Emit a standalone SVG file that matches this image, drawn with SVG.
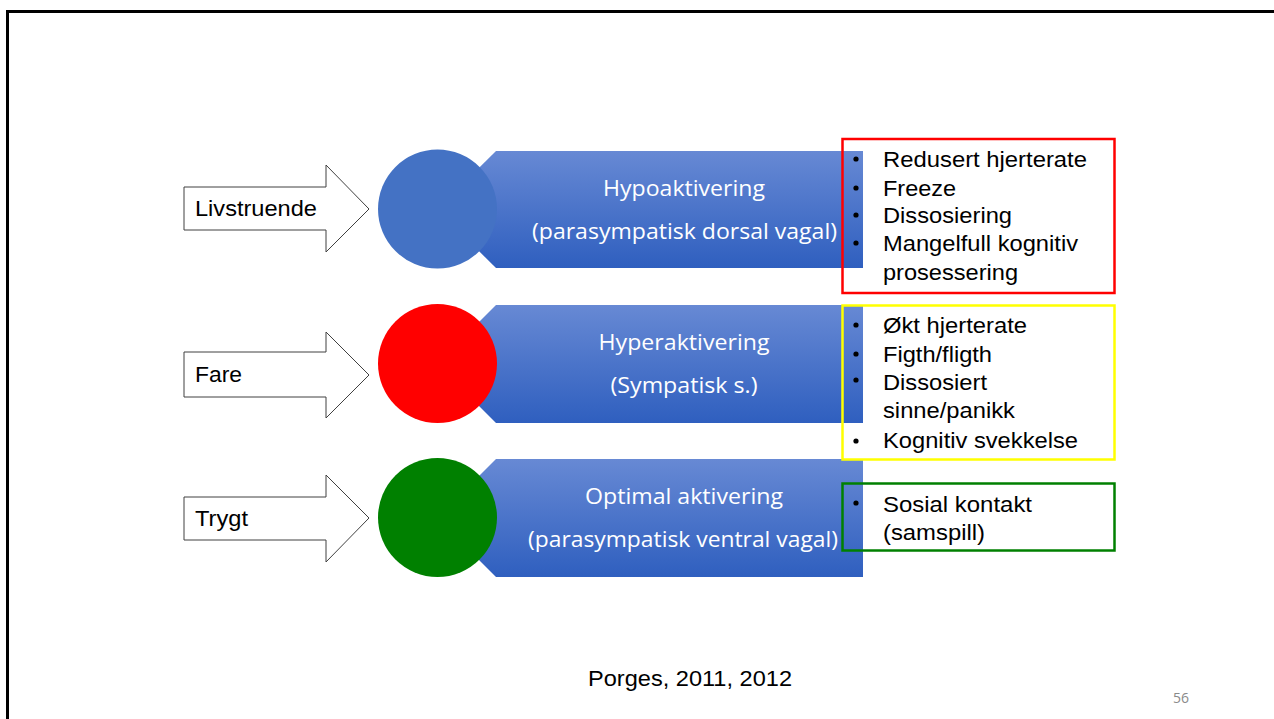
<svg xmlns="http://www.w3.org/2000/svg" width="1274" height="719" viewBox="0 0 1274 719">
<defs>
<linearGradient id="bannerGrad" x1="0" y1="0" x2="0" y2="1">
<stop offset="0" stop-color="#6789d4"/>
<stop offset="1" stop-color="#2f5fbf"/>
</linearGradient>
<style>
.frame{fill:none;stroke:#000;stroke-width:3}
.arrow{fill:#fff;stroke:#404040;stroke-width:1}
.banner{fill:url(#bannerGrad)}
.btxt{font-family:"Open Sans","Liberation Sans",sans-serif;font-size:21px;fill:#fff;text-anchor:middle}
.atxt{font-family:"Liberation Sans",Arial,sans-serif;font-size:22px;fill:#000}
.ltxt{font-family:"Liberation Sans",Arial,sans-serif;font-size:22px;fill:#000}
.bul{fill:#000}
.box{fill:none;stroke-width:2.5}
.pg{font-family:"Open Sans","Liberation Sans",sans-serif;font-size:14px;fill:#8a8a8a}
</style>
</defs>
<rect class="frame" x="7.5" y="11.5" width="1300" height="800"/>
<g id="connectors"></g>

<g id="arrow-livstruende">
<polygon class="arrow" points="184,187 326,187 326,165 369,209 326,252 326,230 184,230"/>
<text class="atxt" x="195" y="216" textLength="122" lengthAdjust="spacingAndGlyphs">Livstruende</text>
</g>
<g id="arrow-fare">
<polygon class="arrow" points="184,352 326,352 326,332 369,375 326,418 326,397 184,397"/>
<text class="atxt" x="195" y="382" textLength="47" lengthAdjust="spacingAndGlyphs">Fare</text>
</g>
<g id="arrow-trygt">
<polygon class="arrow" points="184,497 326,497 326,475 369,518 326,562 326,540 184,540"/>
<text class="atxt" x="195" y="526" textLength="53" lengthAdjust="spacingAndGlyphs">Trygt</text>
</g>

<g id="banner-hypo">
<polygon class="banner" points="496,151 863,151 863,268 496,268 437,209.5"/>
<text class="btxt" x="684" y="196" textLength="162" lengthAdjust="spacingAndGlyphs">Hypoaktivering</text>
<text class="btxt" x="684.5" y="239" textLength="305" lengthAdjust="spacingAndGlyphs">(parasympatisk dorsal vagal)</text>
</g>
<g id="banner-hyper">
<polygon class="banner" points="496,305 863,305 863,423 496,423 437,364"/>
<text class="btxt" x="684" y="350" textLength="171" lengthAdjust="spacingAndGlyphs">Hyperaktivering</text>
<text class="btxt" x="684" y="393" textLength="147" lengthAdjust="spacingAndGlyphs">(Sympatisk s.)</text>
</g>
<g id="banner-optimal">
<polygon class="banner" points="496,459 863,459 863,577 496,577 437,518"/>
<text class="btxt" x="684" y="504" textLength="198" lengthAdjust="spacingAndGlyphs">Optimal aktivering</text>
<text class="btxt" x="683" y="547" textLength="310" lengthAdjust="spacingAndGlyphs">(parasympatisk ventral vagal)</text>
</g>

<g id="circle-blue"><circle cx="437.5" cy="209" r="59.5" fill="#4472c4"/></g>
<g id="circle-red"><circle cx="437.5" cy="363.5" r="59.5" fill="#ff0000"/></g>
<g id="circle-green"><circle cx="437.5" cy="517.5" r="59.5" fill="#008000"/></g>

<g id="list-red">
<rect class="box" x="842.5" y="139" width="272" height="154" stroke="#ff0000"/>
<circle class="bul" cx="856" cy="159" r="2.6"/>
<circle class="bul" cx="856" cy="188" r="2.6"/>
<circle class="bul" cx="856" cy="215" r="2.6"/>
<circle class="bul" cx="856" cy="243" r="2.6"/>
<text class="ltxt" x="883" y="167" textLength="204" lengthAdjust="spacingAndGlyphs">Redusert hjerterate</text>
<text class="ltxt" x="883" y="196" textLength="73" lengthAdjust="spacingAndGlyphs">Freeze</text>
<text class="ltxt" x="883" y="223" textLength="129" lengthAdjust="spacingAndGlyphs">Dissosiering</text>
<text class="ltxt" x="883" y="251" textLength="195" lengthAdjust="spacingAndGlyphs">Mangelfull kognitiv</text>
<text class="ltxt" x="883" y="280" textLength="135" lengthAdjust="spacingAndGlyphs">prosessering</text>
</g>
<g id="list-yellow">
<rect class="box" x="842.5" y="305.5" width="272" height="154" stroke="#ffff00"/>
<circle class="bul" cx="856" cy="325" r="2.6"/>
<circle class="bul" cx="856" cy="354" r="2.6"/>
<circle class="bul" cx="856" cy="380" r="2.6"/>
<circle class="bul" cx="856" cy="441" r="2.6"/>
<text class="ltxt" x="883" y="333" textLength="144" lengthAdjust="spacingAndGlyphs">Økt hjerterate</text>
<text class="ltxt" x="883" y="362" textLength="109" lengthAdjust="spacingAndGlyphs">Figth/fligth</text>
<text class="ltxt" x="883" y="390" textLength="104" lengthAdjust="spacingAndGlyphs">Dissosiert</text>
<text class="ltxt" x="883" y="418" textLength="132" lengthAdjust="spacingAndGlyphs">sinne/panikk</text>
<text class="ltxt" x="883" y="448" textLength="195" lengthAdjust="spacingAndGlyphs">Kognitiv svekkelse</text>
</g>
<g id="list-green">
<rect class="box" x="842.5" y="483.5" width="272" height="67" stroke="#008000"/>
<circle class="bul" cx="856" cy="503" r="2.6"/>
<text class="ltxt" x="883" y="512" textLength="149" lengthAdjust="spacingAndGlyphs">Sosial kontakt</text>
<text class="ltxt" x="883" y="540" textLength="102" lengthAdjust="spacingAndGlyphs">(samspill)</text>
</g>

<g id="citation">
<text class="atxt" x="690" y="686" text-anchor="middle" textLength="204" lengthAdjust="spacingAndGlyphs">Porges, 2011, 2012</text>
</g>
<g id="page-number">
<text class="pg" x="1173" y="703">56</text>
</g>
</svg>
